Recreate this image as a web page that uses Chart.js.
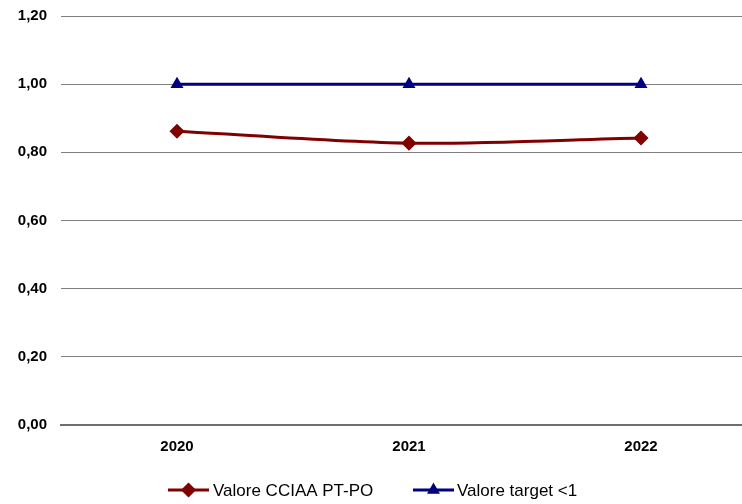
<!DOCTYPE html>
<html>
<head>
<meta charset="utf-8">
<script src="https://cdn.jsdelivr.net/npm/chart.js@4"></script>
<style>
  html, body { margin: 0; padding: 0; background: #fff; overflow: hidden; }
  #wrap { width: 765px; height: 504px; }
</style>
</head>
<body>
<div id="wrap"><canvas id="c" width="765" height="504"></canvas></div>
<script>
const categories = ['2020', '2021', '2022'];
const valoreCCIAA = [0.862, 0.827, 0.842];
const valoreTarget = [1.0, 1.0, 1.0];
const seriesNames = ['Valore CCIAA PT-PO', 'Valore target <1'];
const yTicks = { min: 0, max: 1.2, step: 0.2 };

const RED = '#800000';
const BLUE = '#000080';
const FONT = '"Liberation Sans", Arial, sans-serif';

const legendPlugin = {
  id: 'lineLegend',
  afterDraw(chart) {
    const ctx = chart.ctx;
    const y = 490;
    const items = [
      { x0: 168, x1: 209, tx: 213, color: RED, style: 'rectRot', r: 6.5, text: seriesNames[0] },
      { x0: 413, x1: 454, tx: 457, color: BLUE, style: 'triangle', r: 6, text: seriesNames[1] }
    ];
    ctx.save();
    items.forEach(it => {
      ctx.strokeStyle = it.color;
      ctx.lineWidth = 3;
      ctx.beginPath();
      ctx.moveTo(it.x0, y);
      ctx.lineTo(it.x1, y);
      ctx.stroke();
      ctx.fillStyle = it.color;
      ctx.lineWidth = 1.5;
      Chart.helpers.drawPoint(ctx, { pointStyle: it.style, radius: it.r, borderWidth: 1.5, rotation: 0 }, (it.x0 + it.x1) / 2, y);
      ctx.fillStyle = '#000';
      ctx.font = '17px ' + FONT;
      ctx.textBaseline = 'middle';
      ctx.textAlign = 'left';
      ctx.fillText(it.text, it.tx, y + 1);
    });
    ctx.restore();
  }
};

new Chart(document.getElementById('c'), {
  type: 'line',
  data: {
    labels: categories,
    datasets: [
      {
        label: seriesNames[0],
        data: valoreCCIAA,
        borderColor: RED,
        backgroundColor: RED,
        borderWidth: 3,
        pointStyle: 'rectRot',
        pointRadius: 6.5,
        pointBorderWidth: 1.5,
        tension: 0.3,
        fill: false
      },
      {
        label: seriesNames[1],
        data: valoreTarget,
        borderColor: BLUE,
        backgroundColor: BLUE,
        borderWidth: 3,
        pointStyle: 'triangle',
        pointRadius: 6,
        pointBorderWidth: 1.5,
        tension: 0,
        fill: false
      }
    ]
  },
  options: {
    responsive: false,
    animation: false,
    devicePixelRatio: 1,
    layout: { padding: { top: 16, right: 3, bottom: 0, left: 0 } },
    plugins: {
      legend: { display: false },
      tooltip: { enabled: false }
    },
    scales: {
      x: {
        offset: true,
        grid: { display: false, drawTicks: false },
        border: { display: true, color: '#6e6e6e', width: 2 },
        ticks: {
          color: '#000',
          font: { family: FONT, size: 15, weight: 'bold' },
          padding: 13,
          maxRotation: 0
        },
        afterFit(scale) { scale.height = 79; }
      },
      y: {
        min: yTicks.min,
        max: yTicks.max,
        grid: { color: '#7f7f7f', lineWidth: 1, drawTicks: false },
        border: { display: false },
        ticks: {
          stepSize: yTicks.step,
          color: '#000',
          font: { family: FONT, size: 15, weight: 'bold' },
          padding: 14,
          callback: v => Number(v).toFixed(2).replace('.', ',')
        },
        afterFit(scale) { scale.width = 61; scale.paddingTop = 0; scale.paddingBottom = 0; }
      }
    }
  },
  plugins: [legendPlugin]
});
</script>
</body>
</html>
